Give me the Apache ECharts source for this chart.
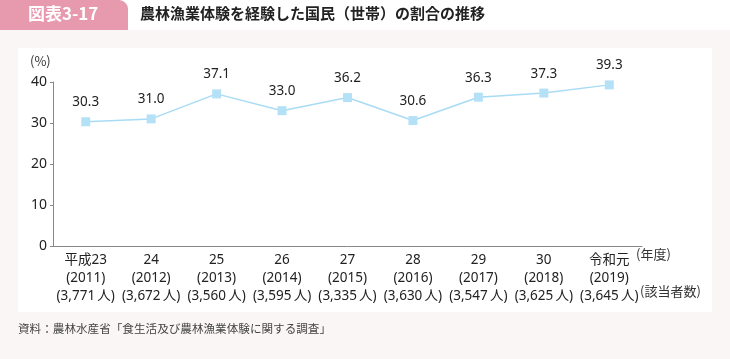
<!DOCTYPE html>
<html><head><meta charset="utf-8">
<script src="https://cdn.jsdelivr.net/npm/echarts@6/dist/echarts.min.js"></script>
<style>html,body{margin:0;padding:0;background:#fff}#c{width:730px;height:359px}</style>
</head><body><div id="c"></div>
<script>
const eraLabels = ['平成23','24','25','26','27','28','29','30','令和元'];
const yearLabels = ['(2011)','(2012)','(2013)','(2014)','(2015)','(2016)','(2017)','(2018)','(2019)'];
const countLabels = ['(3,771\u2009人)','(3,672\u2009人)','(3,560\u2009人)','(3,595\u2009人)','(3,335\u2009人)','(3,630\u2009人)','(3,547\u2009人)','(3,625\u2009人)','(3,645\u2009人)'];
const values = [30.3, 31.0, 37.1, 33.0, 36.2, 30.6, 36.3, 37.3, 39.3];
const yTicks = [0, 10, 20, 30, 40];

const FONT = '"Noto Sans CJK JP", "Noto Sans", sans-serif';
const LFONT = '"Noto Sans", "Noto Sans CJK JP", sans-serif';
const chart = echarts.init(document.getElementById('c'), null, {renderer: 'canvas'});
const cats = eraLabels.map((e, i) => e + '\n' + yearLabels[i] + '\n' + countLabels[i]);
chart.setOption({
  animation: false,
  textStyle: {fontFamily: FONT},
  graphic: [
    {type: 'rect', z: -10, shape: {x: 0, y: 30, width: 730, height: 329}, style: {fill: '#fbf6f6'}},
    {type: 'rect', z: -9, shape: {x: 18, y: 48, width: 694, height: 264}, style: {fill: '#ffffff'}},
    {type: 'rect', z: -8, shape: {x: 0, y: 0, width: 128, height: 30, r: [0, 9, 0, 0]}, style: {fill: '#e799ad'}},
    {type: 'text', left: 28, top: 5, style: {text: '図表3-17', fill: '#ffffff', font: 'bold 17px ' + FONT}},
    {type: 'text', left: 140, top: 6, style: {text: '農林漁業体験を経験した国民（世帯）の割合の推移', fill: '#222222', font: 'bold 15px ' + FONT}},
    {type: 'text', left: 30, top: 55, style: {text: '(%)', fill: '#333333', font: '13px ' + FONT}},
    {type: 'text', left: 636, top: 248, style: {text: '(年度)', fill: '#333333', font: '13px ' + FONT}},
    {type: 'text', left: 640, top: 285, style: {text: '(該当者数)', fill: '#333333', font: '13px ' + FONT}},
    {type: 'text', left: 18, top: 323, style: {text: '資料：農林水産省「食生活及び農林漁業体験に関する調査」', fill: '#444444', font: '11.6px ' + FONT}}
  ],
  grid: {left: 53, right: 88, top: 82, bottom: 113},
  xAxis: {
    type: 'category', data: cats, boundaryGap: true,
    axisLine: {lineStyle: {color: '#888888', width: 1}},
    axisTick: {inside: true, length: 3, lineStyle: {color: '#888888'}},
    axisLabel: {color: '#222222', fontSize: 13.5, lineHeight: 18, margin: 5, interval: 0, fontFamily: LFONT}
  },
  yAxis: {
    type: 'value', min: 0, max: 40, interval: 10,
    splitLine: {show: false},
    axisLine: {show: true, lineStyle: {color: '#888888', width: 1}},
    axisTick: {show: true, length: 3, lineStyle: {color: '#888888'}},
    axisLabel: {color: '#222222', fontSize: 14, margin: 6, fontFamily: LFONT,
      formatter: v => yTicks.includes(v) ? String(v) : ''}
  },
  series: [{
    type: 'line', data: values,
    symbol: 'rect', symbolSize: 9,
    itemStyle: {color: '#b5e1f7'},
    lineStyle: {color: '#a9dbf4', width: 1.5},
    label: {show: true, position: 'top', distance: 8, color: '#222222', fontSize: 13.5, fontFamily: LFONT,
      formatter: p => p.value.toFixed(1)}
  }]
});
</script></body></html>
